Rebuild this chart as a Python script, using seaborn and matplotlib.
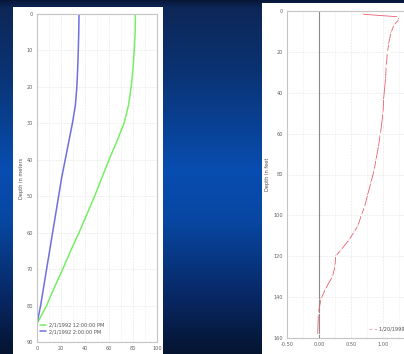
import numpy as np
import matplotlib
matplotlib.use("Agg")
import matplotlib.pyplot as plt
import seaborn as sns

# left chart: depth (m) vs value, two dates
depth_m = [0, 5, 10, 15, 20, 25, 30, 35, 40, 45, 50, 55, 60, 65, 70, 75, 80, 85]
noon_vals = [82, 81.8, 81, 80, 78.5, 76.3, 72.5, 66.5, 60, 54, 48, 41.5, 35, 28, 21.5, 14.5, 8, 0]
two_pm_vals = [35, 34.8, 34.4, 33.9, 33.2, 32, 29.5, 26.5, 23.5, 20.5, 18, 15.5, 13, 10.5, 8, 5.5, 3, 0]
left_labels = ["2/1/1992 12:00:00 PM", "2/1/1992 2:00:00 PM"]

# right chart: depth (ft) vs value
depth_ft = [0.5, 1.5, 2.8, 4, 7, 11, 16, 20, 27, 33, 43, 50, 60, 66, 73, 78, 84, 90, 96,
            100, 105, 108, 112, 117, 120, 125, 130, 136, 141, 148, 158]
ft_vals = [0.64, 0.65, 1.22, 1.25, 1.17, 1.12, 1.09, 1.07, 1.05, 1.04, 1.01, 1.0, 0.96, 0.93,
           0.89, 0.86, 0.81, 0.76, 0.71, 0.66, 0.61, 0.55, 0.47, 0.34, 0.26, 0.25, 0.21,
           0.10, 0.03, -0.01, -0.02]
right_label = "1/20/1999 12:00:00 PM"

W, H = 404, 354
sns.set_style("white")
plt.rcParams["font.family"] = ["DejaVu Sans"]

fig = plt.figure(figsize=(W / 100, H / 100), dpi=100)

# slide background, vertical blue gradient
bg = fig.add_axes([0, 0, 1, 1])
stops = [0.0, 0.02, 0.2, 0.48, 0.62, 0.85, 1.0]
cols = np.array([[0.03, 0.09, 0.22], [0.05, 0.15, 0.34], [0.04, 0.2, 0.45],
                 [0.03, 0.3, 0.69], [0.03, 0.28, 0.64], [0.03, 0.15, 0.38],
                 [0.02, 0.08, 0.19]])
t = np.linspace(0, 1, H)
grad = np.stack([np.interp(t, stops, cols[:, i]) for i in range(3)], axis=1)
bg.imshow(np.repeat(grad[:, None, :], 4, axis=1), aspect="auto", extent=[0, 1, 1, 0])
bg.set_axis_off()


def px(l, t_, r, b):
    return [l / W, 1 - b / H, (r - l) / W, (b - t_) / H]


def panel(rect):
    p = fig.add_axes(rect)
    p.set_facecolor("white")
    p.set_xticks([])
    p.set_yticks([])
    for s in p.spines.values():
        s.set_visible(False)


def style(ax):
    ax.set_facecolor("white")
    for s in ax.spines.values():
        s.set_color("#c4c4c4")
        s.set_linewidth(0.8)
    ax.tick_params(labelsize=3.6, colors="#606060", length=1.5, width=0.5, pad=1.5)
    ax.grid(True, which="major", color="#e4e4e4", linewidth=0.4, linestyle="--")
    ax.grid(True, which="minor", axis="x", color="#ececec", linewidth=0.4, linestyle="--")
    ax.tick_params(which="minor", length=0)


# left panel
panel(px(13, 7, 163, 354))
ax1 = fig.add_axes(px(37, 14, 157, 342))
sns.lineplot(x=noon_vals, y=depth_m, sort=False, color="#77ee66", lw=1.1, ax=ax1, label=left_labels[0])
sns.lineplot(x=two_pm_vals, y=depth_m, sort=False, color="#6f6fe0", lw=1.1, ax=ax1, label=left_labels[1])
ax1.set_xlim(0, 100)
ax1.set_ylim(90, 0)
ax1.set_xticks(range(0, 101, 20))
ax1.set_xticks(range(0, 101, 10), minor=True)
ax1.set_yticks(range(0, 91, 10))
ax1.set_ylabel("Depth in meters", fontsize=3.6, color="#505050", labelpad=2)
ax1.set_xlabel("")
style(ax1)
ax1.legend(loc="lower left", bbox_to_anchor=(0.0, 0.015), fontsize=3.6, frameon=False,
           handlelength=1.2, handletextpad=0.6, labelspacing=0.3, borderaxespad=0.2,
           labelcolor="#505050")

# right panel (runs off the slide edge)
panel(px(262, 3, 470, 354))
ax2 = fig.add_axes(px(287, 11, 447, 338))
ax2.axvline(0, color="#8a8a8a", lw=0.8, zorder=1)
sns.lineplot(x=ft_vals, y=depth_ft, sort=False, color="#e8606e", lw=0.6,
             marker="+", markersize=2.2, markeredgewidth=0.6, ax=ax2, label=right_label)
ax2.set_xlim(-0.5, 2.0)
ax2.set_ylim(160, 0)
ax2.set_xticks([-0.5, 0, 0.5, 1.0])
ax2.set_xticklabels(["-0.50", "0.00", "0.50", "1.00"])
ax2.set_xticks(np.arange(-0.5, 2.01, 0.25), minor=True)
ax2.set_yticks(range(0, 161, 20))
ax2.set_ylabel("Depth in feet", fontsize=3.6, color="#505050", labelpad=2)
ax2.set_xlabel("")
style(ax2)
ax2.legend(loc="lower left", bbox_to_anchor=(0.5, 0.01), fontsize=3.6, frameon=False,
           handlelength=1.2, handletextpad=0.6, borderaxespad=0.2, labelcolor="#505050")

fig.savefig("out.png", dpi=100)
